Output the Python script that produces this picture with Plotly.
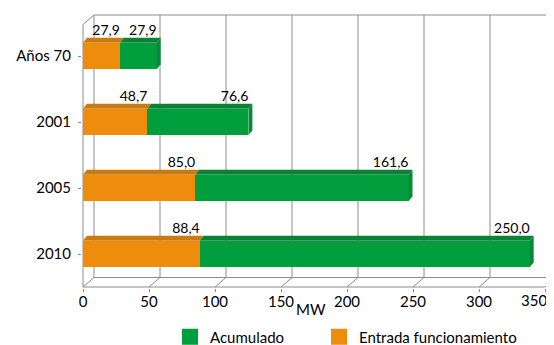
import plotly.graph_objects as go

categories = ["Años 70", "2001", "2005", "2010"]
entrada = [27.9, 48.7, 85.0, 88.4]
acumulado = [27.9, 76.6, 161.6, 250.0]
x_ticks = [0, 50, 100, 150, 200, 250, 300, 350]

ORANGE = "#EE8C0C"
ORANGE_TOP = "#C97A10"
GREEN = "#009E3C"
GREEN_TOP = "#0B8233"
GREEN_SIDE = "#08893A"
GRID = "#8C8C8C"
FONT = "Lato"

# the page body adds an 8px margin, so the figure is drawn 8px smaller
OFF = 8
W, H = 554 - OFF, 345 - OFF
PLOT_L, PLOT_T, PLOT_B = 82, 14, 288  # plot area edges in window pixels
L, R, T, B = PLOT_L - OFF, 0, PLOT_T - OFF, 345 - PLOT_B
PW, PH = W - L - R, H - T - B
PX_X = 1.32  # px per MW
PX_Y = 66    # px per category step

x0 = -1 / PX_X
x1 = x0 + PW / PX_X
y_hi = -(56 - PLOT_T) / PX_Y          # top of plot area (reversed axis)
y_lo = 3 + (PLOT_B - 254) / PX_Y      # bottom of plot area

# 3d wall depth and bar depth, in data units
DX = 11 / PX_X
DY = 9.5 / PX_Y
BDX = 4 / PX_X
BDY = 5 / PX_Y
BW = 0.4
LABEL_UP = 0.37

y_fb = 3 + (287 - 254) / PX_Y   # front floor edge
y_bb = y_fb - DY                # back floor edge
y_bt = -(56 - 15) / PX_Y        # back wall top
y_ft = y_bt + DY                # front wall top

ypos = list(range(len(categories)))
ends_o = entrada
ends_g = [a + b for a, b in zip(entrada, acumulado)]


def line(xa, ya, xb, yb, layer="below"):
    return dict(type="line", xref="x", yref="y", x0=xa, y0=ya, x1=xb, y1=yb,
                line=dict(color=GRID, width=1), layer=layer)


def poly(pts, color):
    path = "M" + " L".join(f"{px},{py}" for px, py in pts) + " Z"
    return dict(type="path", xref="x", yref="y", path=path,
                fillcolor=color, line=dict(width=0), layer="above")


shapes = []
# back wall grid + top edge
for t in x_ticks:
    if t + DX < x1:
        shapes.append(line(t + DX, y_bb, t + DX, y_bt))
shapes.append(line(DX, y_bt, x1, y_bt))
# floor
shapes.append(line(0, y_fb, x_ticks[-1], y_fb))
shapes.append(line(DX, y_bb, x1, y_bb))
for t in x_ticks:
    shapes.append(line(t, y_fb, t + DX, y_bb))
# left wall
shapes.append(line(0, y_fb, 0, y_ft))
shapes.append(line(0, y_ft, DX, y_bt))

# bar top faces and side face
for i, (eo, eg) in enumerate(zip(ends_o, ends_g)):
    yt = i - BW / 2
    yb = i + BW / 2
    shapes.append(poly([(0, yt), (BDX, yt - BDY), (eo + BDX, yt - BDY), (eo, yt)], ORANGE_TOP))
    shapes.append(poly([(eo, yt), (eo + BDX, yt - BDY), (eg + BDX, yt - BDY), (eg, yt)], GREEN_TOP))
    shapes.append(poly([(eg, yt), (eg + BDX, yt - BDY), (eg + BDX, yb - BDY), (eg, yb)], GREEN_SIDE))

fig = go.Figure()
fig.add_bar(y=ypos, x=entrada, orientation="h", width=BW, marker=dict(color=ORANGE, line=dict(width=0)),
            showlegend=False, hoverinfo="skip")
fig.add_bar(y=ypos, x=acumulado, orientation="h", width=BW, marker=dict(color=GREEN, line=dict(width=0)),
            showlegend=False, hoverinfo="skip")


def fmt(v):
    return f"{v:.1f}".replace(".", ",")


fig.add_scatter(x=ends_o, y=[i - LABEL_UP for i in ypos], mode="text", text=[fmt(v) for v in entrada],
                textposition="middle left", textfont=dict(size=14, color="#000", family=FONT),
                showlegend=False, cliponaxis=False, hoverinfo="skip")
fig.add_scatter(x=ends_g, y=[i - LABEL_UP for i in ypos], mode="text", text=[fmt(v) for v in acumulado],
                textposition="middle left", textfont=dict(size=14, color="#000", family=FONT),
                showlegend=False, cliponaxis=False, hoverinfo="skip")

# legend entries, one legend each so the spacing can be set
fig.add_scatter(x=[None], y=[None], mode="markers", name="Acumulado", legend="legend",
                marker=dict(symbol="square", size=16, color=GREEN))
fig.add_scatter(x=[None], y=[None], mode="markers", name="Entrada funcionamiento", legend="legend2",
                marker=dict(symbol="square", size=16, color=ORANGE))

# last tick label is pulled inside the chart, as in the original
tick_text = [str(t) for t in x_ticks[:-1]] + [""]
tick_y = (PLOT_B - 300) / PH

leg_y = (PLOT_B - 337) / PH
fig.update_layout(
    width=W, height=H,
    margin=dict(l=L, r=R, t=T, b=B, autoexpand=False),
    barmode="stack",
    paper_bgcolor="white", plot_bgcolor="white",
    font=dict(family=FONT, size=15, color="#000"),
    shapes=shapes,
    legend=dict(x=(170 - PLOT_L) / PW, xanchor="left", y=leg_y, yanchor="middle",
                font=dict(size=15), bgcolor="rgba(0,0,0,0)"),
    legend2=dict(x=(319 - PLOT_L) / PW, xanchor="left", y=leg_y, yanchor="middle",
                 font=dict(size=15), bgcolor="rgba(0,0,0,0)"),
    annotations=[
        dict(text="MW", xref="paper", yref="paper",
             x=(311 - PLOT_L) / PW, y=(PLOT_B - 309) / PH,
             xanchor="center", yanchor="middle", showarrow=False, font=dict(size=15)),
        dict(text=str(x_ticks[-1]), xref="x", yref="paper", x=x_ticks[-1], y=tick_y,
             xanchor="right", yanchor="middle", xshift=4, showarrow=False, font=dict(size=15)),
    ],
)
fig.update_xaxes(range=[x0, x1], tickvals=x_ticks, ticktext=tick_text,
                 showgrid=False, zeroline=False, showline=False, ticklabelstandoff=-3,
                 automargin=False, ticks="outside", ticklen=3, tickcolor=GRID, tickfont=dict(size=15))
fig.update_yaxes(range=[y_lo, y_hi], tickvals=ypos, ticktext=categories, showgrid=False, zeroline=False,
                 automargin=False, showline=False, ticks="outside", ticklen=3, tickcolor=GRID,
                 ticklabelstandoff=4, tickfont=dict(size=15))

fig.write_html("out.html")
